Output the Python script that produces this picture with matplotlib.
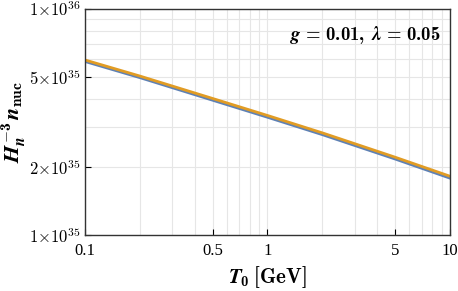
import numpy as np
import matplotlib.pyplot as plt
from matplotlib.ticker import FixedLocator, FixedFormatter, LogLocator, NullFormatter

plt.rcParams['mathtext.fontset'] = 'custom'
plt.rcParams['mathtext.rm'] = 'cmb10'
plt.rcParams['mathtext.bf'] = 'cmb10'
plt.rcParams['mathtext.it'] = 'STIXGeneral:italic:bold'
plt.rcParams['font.family'] = 'serif'
plt.rcParams['font.serif'] = ['Liberation Serif', 'DejaVu Serif']

# values
T0 = [0.1, 0.2, 0.5, 1.0, 2.0, 5.0, 10.0]
n_orange = [5.95e35, 5.05e35, 4.02e35, 3.38e35, 2.83e35, 2.21e35, 1.82e35]
n_blue = [5.86e35, 4.97e35, 3.95e35, 3.32e35, 2.78e35, 2.17e35, 1.785e35]

xticks = [0.1, 0.5, 1, 5, 10]
xtick_labels = ['0.1', '0.5', '1', '5', '10']
yticks = [1e35, 2e35, 5e35, 1e36]
ytick_labels = [r'$1{\times}10^{35}$', r'$2{\times}10^{35}$', r'$5{\times}10^{35}$', r'$1{\times}10^{36}$']

fig = plt.figure(figsize=(4.58, 2.91), dpi=100)
ax = fig.add_axes([0.1856, 0.1924, 0.7969, 0.7766])

ax.plot(T0, n_blue, color='#5E81B5', lw=2)
ax.plot(T0, n_orange, color='#E19C24', lw=2)

ax.set_xscale('log')
ax.set_yscale('log')
ax.set_xlim(0.1, 10)
ax.set_ylim(1e35, 1e36)

ax.xaxis.set_major_locator(FixedLocator(xticks))
ax.xaxis.set_major_formatter(FixedFormatter(xtick_labels))
ax.xaxis.set_minor_locator(LogLocator(base=10, subs=np.arange(1, 10)))
ax.xaxis.set_minor_formatter(NullFormatter())
ax.yaxis.set_major_locator(FixedLocator(yticks))
ax.yaxis.set_major_formatter(FixedFormatter(ytick_labels))
ax.yaxis.set_minor_locator(LogLocator(base=10, subs=np.arange(1, 10)))
ax.yaxis.set_minor_formatter(NullFormatter())

ax.grid(True, which='both', color='#e6e6e6', lw=0.8)
ax.tick_params(which='major', direction='in', length=4, width=0.8, labelsize=12)
ax.tick_params(axis='x', pad=5.5)
ax.tick_params(axis='y', pad=3)
ax.tick_params(which='minor', length=0)
for lab in ax.get_yticklabels():
    lab.set_math_fontfamily('cm')
for s in ax.spines.values():
    s.set_linewidth(1.0)
    s.set_color('#333333')

ax.set_xlabel(r'$T_0\;\mathrm{[GeV]}$', fontsize=15, labelpad=4)
ax.set_ylabel(r'$H_n^{-3}\,n_{\mathrm{nuc}}$', fontsize=16, labelpad=1)
ax.text(0.975, 0.935, r'$g\,\mathrm{=}\,\mathrm{0.01,}\ \lambda\,\mathrm{=}\,\mathrm{0.05}$',
        transform=ax.transAxes, ha='right', va='top', fontsize=13.5)

fig.savefig('out.png', dpi=100)
